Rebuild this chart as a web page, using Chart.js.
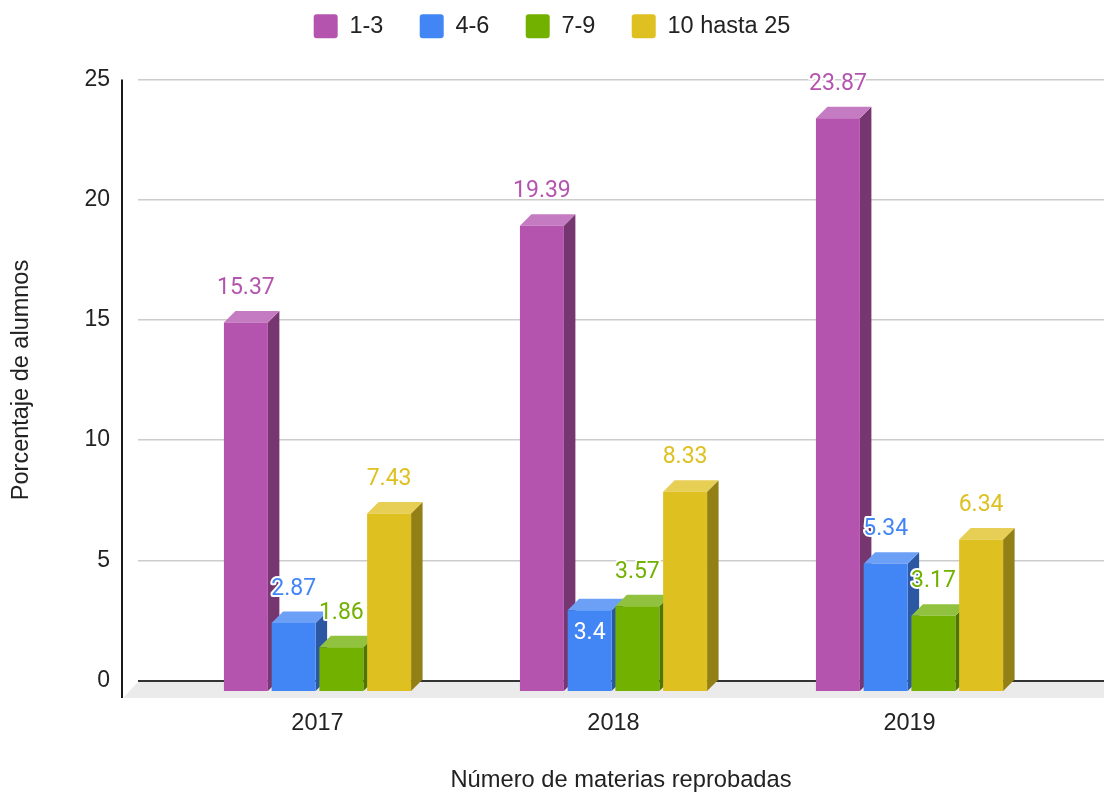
<!DOCTYPE html>
<html>
<head>
<meta charset="utf-8">
<script src="https://cdn.jsdelivr.net/npm/chart.js@4.4.1/dist/chart.umd.min.js"></script>
<style>
html,body{margin:0;padding:0;background:#fff;}
#wrap{width:1104px;height:792px;position:relative;}
</style>
</head>
<body>
<div id="wrap"><canvas id="c"></canvas></div>
<script>
// ---- data ----
const years = ['2017', '2018', '2019'];
const seriesNames = ['1-3', '4-6', '7-9', '10 hasta 25'];
const s1to3 = [15.37, 19.39, 23.87];
const s4to6 = [2.87, 3.4, 5.34];
const s7to9 = [1.86, 3.57, 3.17];
const s10to25 = [7.43, 8.33, 6.34];
const yTickValues = [0, 5, 10, 15, 20, 25];
const yTitle = 'Porcentaje de alumnos';
const xTitle = 'Número de materias reprobadas';

// ---- styles ----
const frontColors = ['#b454ae', '#4285f4', '#72b100', '#dfc021'];
const topColors = ['#c57bc1', '#6c9ff6', '#91c23f', '#e7ce55'];
const sideColors = ['#76366f', '#2c58a3', '#4b7600', '#928016'];
const DEPTH = 11.5;
const FLOOR = 17.5;
const LABEL_FONT = '23px Roboto';
const AXIS_FONT = '"Liberation Sans", Arial, sans-serif';

const allSeries = [s1to3, s4to6, s7to9, s10to25];

const datasets = allSeries.map((vals, i) => ({
  label: seriesNames[i],
  data: vals.map((v, k) => ({ x: k, y: v })),
  backgroundColor: frontColors[i],
  borderWidth: 0,
  categoryPercentage: 0.645,
  barPercentage: 0.921,
  clip: false
}));

const bars3d = {
  id: 'bars3d',
  beforeDatasetsDraw(chart) {
    const ctx = chart.ctx;
    const { left, right, top, bottom } = chart.chartArea;
    ctx.save();
    // floor
    ctx.fillStyle = '#ebebeb';
    ctx.beginPath();
    ctx.moveTo(left, bottom + 1.5);
    ctx.lineTo(right, bottom + 1.5);
    ctx.lineTo(right, bottom + FLOOR);
    ctx.lineTo(left - 15, bottom + FLOOR);
    ctx.closePath();
    ctx.fill();
    // left axis line
    ctx.strokeStyle = '#1a1a1a';
    ctx.lineWidth = 2;
    ctx.beginPath();
    ctx.moveTo(left - 16, top);
    ctx.lineTo(left - 16, bottom + FLOOR);
    ctx.stroke();
    // side and top faces
    const items = [];
    chart.data.datasets.forEach((ds, di) => {
      if (!chart.isDatasetVisible(di)) return;
      chart.getDatasetMeta(di).data.forEach(el => items.push({ el, di }));
    });
    items.sort((a, b) => a.el.x - b.el.x);
    const d = DEPTH;
    for (const { el, di } of items) {
      const { x, y, base, width } = el.getProps(['x', 'y', 'base', 'width'], true);
      const l = x - width / 2, r = x + width / 2;
      ctx.fillStyle = sideColors[di];
      ctx.beginPath();
      ctx.moveTo(r, y + d);
      ctx.lineTo(r + d, y);
      ctx.lineTo(r + d, base);
      ctx.lineTo(r, base + d);
      ctx.closePath();
      ctx.fill();
      ctx.fillStyle = topColors[di];
      ctx.beginPath();
      ctx.moveTo(l, y + d);
      ctx.lineTo(l + d, y);
      ctx.lineTo(r + d, y);
      ctx.lineTo(r, y + d);
      ctx.closePath();
      ctx.fill();
    }
    ctx.restore();
    ctx.save();
    ctx.translate(0, DEPTH);
  },
  afterDatasetsDraw(chart) {
    const ctx = chart.ctx;
    ctx.restore();
    // value labels
    ctx.save();
    ctx.font = LABEL_FONT;
    ctx.textAlign = 'center';
    ctx.textBaseline = 'alphabetic';
    const labels = [];
    chart.data.datasets.forEach((ds, di) => {
      if (!chart.isDatasetVisible(di)) return;
      chart.getDatasetMeta(di).data.forEach((el, k) => {
        const v = allSeries[di][k];
        const { x, y } = el.getProps(['x', 'y'], true);
        labels.push({ text: String(v), v, x, y, di });
      });
    });
    labels.sort((a, b) => b.v - a.v);
    const placed = [];
    const capH = 16.5;
    for (const lb of labels) {
      const w = ctx.measureText(lb.text).width;
      const baseline = lb.y - 17;
      const box = { l: lb.x - w / 2 - 8, r: lb.x + w / 2 + 8, t: baseline - capH - 2, b: baseline + 2 };
      const hit = placed.some(p => box.l < p.r && box.r > p.l && box.t < p.b && box.b > p.t);
      if (!hit) {
        placed.push(box);
        ctx.lineJoin = 'round';
        ctx.lineWidth = 4;
        ctx.strokeStyle = '#ffffff';
        ctx.strokeText(lb.text, lb.x, baseline);
        ctx.fillStyle = frontColors[lb.di];
        ctx.fillText(lb.text, lb.x, baseline);
      } else {
        ctx.fillStyle = '#ffffff';
        ctx.fillText(lb.text, lb.x, lb.y + DEPTH + 29);
      }
    }
    ctx.restore();
  }
};

new Chart(document.getElementById('c'), {
  type: 'bar',
  data: { datasets },
  options: {
    responsive: true,
    maintainAspectRatio: false,
    devicePixelRatio: 1,
    animation: false,
    events: [],
    layout: { padding: { top: -22, left: 0, right: 0, bottom: 0 } },
    plugins: {
      legend: {
        position: 'top',
        labels: {
          boxWidth: 24,
          boxHeight: 24,
          padding: 36.3,
          useBorderRadius: true,
          borderRadius: 3,
          color: '#222222',
          font: { family: AXIS_FONT, size: 23.5 }
        }
      },
      subtitle: {
        display: true,
        text: '',
        position: 'top',
        weight: 100,
        padding: 0,
        font: { size: 31.2, lineHeight: 1 }
      },
      tooltip: { enabled: false }
    },
    scales: {
      x: {
        type: 'linear',
        offset: false,
        min: -0.6064,
        max: 2.657,
        afterBuildTicks: s => { s.ticks = years.map((_, i) => ({ value: i })); },
        afterFit: s => { s.height = 111.5; },
        grid: { display: false, drawTicks: false },
        border: { display: false },
        ticks: {
          callback: v => years[v],
          color: '#222222',
          padding: 29,
          maxRotation: 0,
          autoSkip: false,
          font: { family: AXIS_FONT, size: 23.5 }
        },
        title: {
          display: true,
          text: xTitle,
          color: '#222222',
          padding: { top: 0, bottom: 0 },
          font: { family: AXIS_FONT, size: 23.7, lineHeight: 1 }
        }
      },
      y: {
        min: 0,
        max: 25,
        afterBuildTicks: s => { s.ticks = yTickValues.map(v => ({ value: v })); },
        afterFit: s => { s.width = 138; },
        border: { display: false },
        grid: {
          drawTicks: false,
          color: c => (c.tick && c.tick.value === 0 ? '#333333' : '#cccccc'),
          lineWidth: c => (c.tick && c.tick.value === 0 ? 2 : 1.5)
        },
        ticks: {
          color: '#222222',
          padding: 28,
          font: { family: AXIS_FONT, size: 23 }
        },
        title: {
          display: true,
          text: yTitle,
          color: '#222222',
          padding: { top: 10, bottom: 0 },
          font: { family: AXIS_FONT, size: 23.5, lineHeight: 1 }
        }
      }
    }
  },
  plugins: [bars3d]
});
</script>
</body>
</html>
